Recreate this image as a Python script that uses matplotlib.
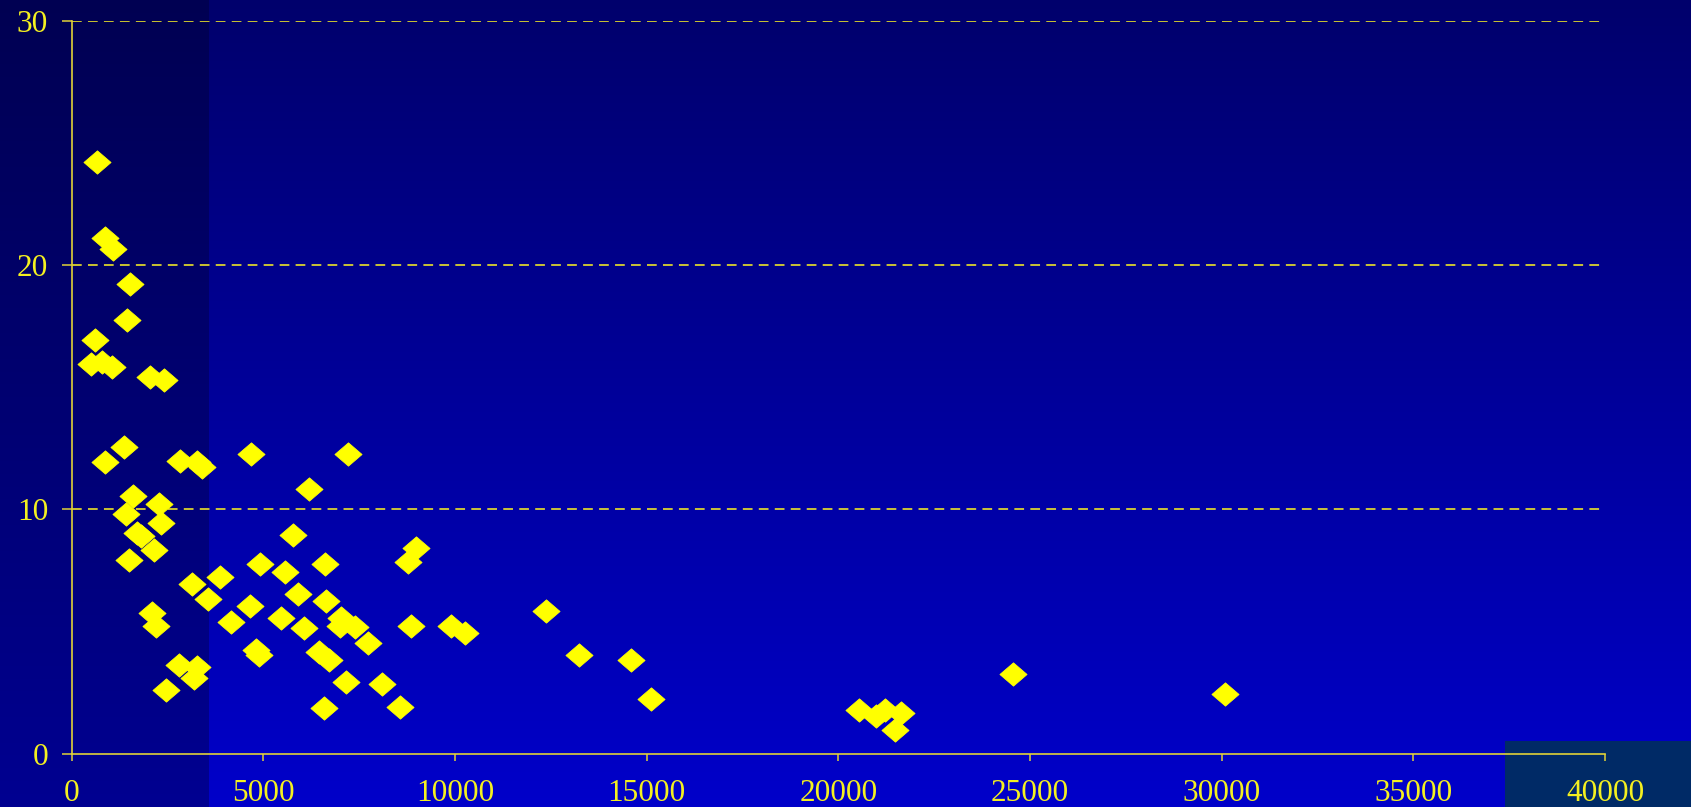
import numpy as np
import matplotlib
matplotlib.use("Agg")
import matplotlib.pyplot as plt
from matplotlib.path import Path
from matplotlib.patches import Rectangle

# Scatter data: x (amount) and y (rate)
x_vals = [661, 872, 1069, 1533, 1449, 605, 492, 802, 1055, 2040, 2406,
          1365, 858, 2827, 3277, 3390, 4684, 7216, 6203, 1590, 2265, 1421,
          2321, 1702, 1815, 2152, 1505, 5782, 8990, 8765, 4910, 6598, 5557,
          3137, 3869, 3559, 5895, 6626, 4655, 2096, 2209, 4150, 5472, 6063,
          7020, 6992, 7386, 7724, 8850, 9890, 10256, 12366, 13238, 14589,
          15124, 4797, 4881, 6457, 6710, 2800, 3277, 3193, 2462, 7161, 8090,
          6570, 8568, 20527, 20977, 21230, 21624, 21483, 24550, 30093]
y_vals = [24.23, 21.09, 20.64, 19.22, 17.73, 16.93, 15.96, 16.05, 15.83, 15.43, 15.31,
          12.57, 11.95, 11.99, 11.95, 11.73, 12.26, 12.26, 10.85, 10.54, 10.23, 9.83,
          9.44, 9.04, 8.91, 8.34, 7.94, 8.95, 8.42, 7.85, 7.76, 7.76, 7.45,
          6.96, 7.23, 6.35, 6.52, 6.26, 6.04, 5.77, 5.24, 5.37, 5.55, 5.15,
          5.55, 5.24, 5.20, 4.54, 5.24, 5.24, 4.94, 5.86, 4.05, 3.83,
          2.24, 4.23, 4.05, 4.18, 3.83, 3.65, 3.56, 3.08, 2.60, 2.95, 2.86,
          1.89, 1.93, 1.80, 1.54, 1.80, 1.67, 0.96, 3.26, 2.46]

x_ticks = [0, 5000, 10000, 15000, 20000, 25000, 30000, 35000, 40000]
y_ticks = [0, 10, 20, 30]

W, H, DPI = 1691, 807, 100
plt.rcParams['lines.scale_dashes'] = False
plt.rcParams['font.family'] = ['Liberation Serif', 'DejaVu Serif']
fig = plt.figure(figsize=(W / DPI, H / DPI), dpi=DPI)

# Background: vertical blue gradient, darker band on the left
bg = fig.add_axes([0, 0, 1, 1])
bg.set_axis_off()
t = np.linspace(0, 1, H)[:, None]
img = np.zeros((H, W, 3))
right_top, right_bot = np.array([0, 0, 108]), np.array([0, 0, 202])
left_top, left_bot = np.array([0, 0, 82]), np.array([0, 0, 145])
band = 209
img[:, band:, :] = (right_top + (right_bot - right_top) * t)[:, None, :] / 255
img[:, :band, :] = (left_top + (left_bot - left_top) * t)[:, None, :] / 255
bg.imshow(img, extent=[0, W, H, 0], aspect='auto', interpolation='bilinear')
bg.add_patch(Rectangle((1505, 741), W - 1505, H - 741, color='#002a66', lw=0))
bg.set_xlim(0, W)
bg.set_ylim(H, 0)

# Main plot axes
left, right = 71.7 / W, 1605 / W
bottom, top = 1 - 753.7 / H, 1 - 20.7 / H
ax = fig.add_axes([left, bottom, right - left, top - bottom])
ax.patch.set_alpha(0)

diamond = Path([(-1, 0), (0, 0.86), (1, 0), (0, -0.86), (-1, 0)],
               [Path.MOVETO, Path.LINETO, Path.LINETO, Path.LINETO, Path.CLOSEPOLY])
ax.plot(x_vals, y_vals, linestyle='none', marker=diamond, markersize=19.5,
        markerfacecolor='#ffff00', markeredgecolor='#ffff00', markeredgewidth=0.6,
        zorder=3)

ax.set_xlim(0, 40000)
ax.set_ylim(0, 30)

label_font = {'family': ['Liberation Serif', 'DejaVu Serif'], 'size': 22.5,
              'color': '#f4f020'}
ax.set_xticks(x_ticks)
ax.set_yticks(y_ticks)
ax.set_xticklabels([str(v) for v in x_ticks], fontdict=label_font)
ax.set_yticklabels([str(v) for v in y_ticks], fontdict=label_font)

axis_col = '#e0d238'
for s in ['top', 'right']:
    ax.spines[s].set_visible(False)
for s in ['left', 'bottom']:
    ax.spines[s].set_color(axis_col)
    ax.spines[s].set_linewidth(1.2)

for yv in y_ticks[1:]:
    ax.axhline(yv, color='#ece428', lw=1.2, dashes=(7, 4.5), zorder=1)

ax.tick_params(axis='x', direction='out', length=5, width=1.1, color=axis_col, pad=13)
ax.tick_params(axis='y', direction='out', length=7, width=1.1, color=axis_col, pad=10)

fig.savefig('out.png', dpi=DPI)
